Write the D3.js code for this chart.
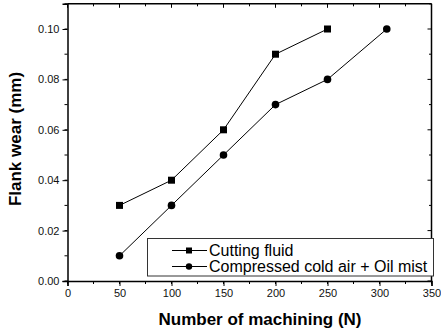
<!DOCTYPE html>
<html>
<head>
<meta charset="utf-8">
<script src="https://cdn.jsdelivr.net/npm/d3@7"></script>
<style>
  body { margin: 0; background: #fff; }
  svg { display: block; font-family: "Liberation Sans", Arial, sans-serif; }
</style>
</head>
<body>
<svg id="chart" width="441" height="330"></svg>
<script>
// series
const cuttingX = [50, 100, 150, 200, 250];
const cuttingY = [0.03, 0.04, 0.06, 0.09, 0.10];
const airX = [50, 100, 150, 200, 250, 307];
const airY = [0.01, 0.03, 0.05, 0.07, 0.08, 0.10];
const seriesNames = ["Cutting fluid", "Compressed cold air + Oil mist"];
const xTicks = [0, 50, 100, 150, 200, 250, 300, 350];
const yTicks = [0, 0.02, 0.04, 0.06, 0.08, 0.10];

const svg = d3.select("#chart");
const plotLeft = 67.5, plotRight = 431.5, plotTop = 3.8, plotBottom = 281;

const x = d3.scaleLinear().domain([0, 350]).range([plotLeft, plotRight]);
const y = d3.scaleLinear().domain([0, 0.11]).range([plotBottom, plotTop]);

// minor ticks on all sides
const xMinor = d3.range(0, 351, 25);
const yMinor = d3.range(0, 0.1101, 0.01);

// bottom axis
const xAxis = svg.append("g")
  .attr("transform", `translate(0,${plotBottom})`)
  .call(d3.axisBottom(x).tickValues(xTicks).tickSize(5).tickPadding(3).tickFormat(d3.format("d")));
xAxis.select(".domain").attr("stroke-width", 1.5);
xAxis.selectAll("text").attr("font-size", 11).attr("fill", "#111");

svg.append("g").selectAll("line")
  .data(xMinor)
  .join("line")
  .attr("x1", d => x(d)).attr("x2", d => x(d))
  .attr("y1", plotBottom).attr("y2", plotBottom + 3)
  .attr("stroke", "#000");

// left axis
const yAxis = svg.append("g")
  .attr("transform", `translate(${plotLeft},0)`)
  .call(d3.axisLeft(y).tickValues(yTicks).tickSize(5).tickPadding(3).tickFormat(d3.format(".2f")));
yAxis.select(".domain").attr("stroke-width", 1.5);
yAxis.selectAll("text").attr("font-size", 11).attr("fill", "#111");

svg.append("g").selectAll("line")
  .data(yMinor)
  .join("line")
  .attr("x1", plotLeft - 3).attr("x2", plotLeft)
  .attr("y1", d => y(d)).attr("y2", d => y(d))
  .attr("stroke", "#000");

// top and right frame with inward ticks
svg.append("line")
  .attr("x1", plotLeft).attr("x2", plotRight).attr("y1", plotTop).attr("y2", plotTop)
  .attr("stroke", "#000").attr("stroke-width", 1.5);
svg.append("line")
  .attr("x1", plotRight).attr("x2", plotRight).attr("y1", plotTop).attr("y2", plotBottom)
  .attr("stroke", "#000").attr("stroke-width", 1.5);

svg.append("g").selectAll("line")
  .data(xMinor)
  .join("line")
  .attr("x1", d => x(d)).attr("x2", d => x(d))
  .attr("y1", plotTop).attr("y2", d => plotTop + (d % 50 === 0 ? 4 : 2.5))
  .attr("stroke", "#000");

svg.append("g").selectAll("line")
  .data(yMinor)
  .join("line")
  .attr("x1", plotRight).attr("x2", (d, i) => plotRight - (i % 2 === 0 ? 4 : 2.5))
  .attr("y1", d => y(d)).attr("y2", d => y(d))
  .attr("stroke", "#000");

// axis titles
svg.append("text")
  .attr("x", 260).attr("y", 325)
  .attr("text-anchor", "middle")
  .attr("font-size", 17).attr("font-weight", "bold")
  .text("Number of machining (N)");

svg.append("text")
  .attr("transform", "translate(21,139) rotate(-90)")
  .attr("text-anchor", "middle")
  .attr("font-size", 17).attr("font-weight", "bold")
  .text("Flank wear (mm)");

// lines and markers
const line = d3.line().x(d => x(d[0])).y(d => y(d[1]));
const cutting = cuttingX.map((v, i) => [v, cuttingY[i]]);
const air = airX.map((v, i) => [v, airY[i]]);

svg.append("path").datum(cutting)
  .attr("d", line).attr("fill", "none").attr("stroke", "#000").attr("stroke-width", 1);
svg.append("path").datum(air)
  .attr("d", line).attr("fill", "none").attr("stroke", "#000").attr("stroke-width", 1);

svg.selectAll(".sq")
  .data(cutting)
  .join("rect")
  .attr("class", "sq")
  .attr("x", d => x(d[0]) - 3.5).attr("y", d => y(d[1]) - 3.5)
  .attr("width", 7).attr("height", 7)
  .attr("fill", "#000");

svg.selectAll(".dot")
  .data(air)
  .join("circle")
  .attr("class", "dot")
  .attr("cx", d => x(d[0])).attr("cy", d => y(d[1]))
  .attr("r", 3.8)
  .attr("fill", "#000");

// legend
const legend = svg.append("g");
legend.append("rect")
  .attr("x", 147.5).attr("y", 238.5).attr("width", 286).attr("height", 37.5)
  .attr("fill", "#fff").attr("stroke", "#333").attr("stroke-width", 1);

const rows = [250.5, 266.5];
rows.forEach((ry, i) => {
  legend.append("line")
    .attr("x1", 172).attr("x2", 207).attr("y1", ry).attr("y2", ry)
    .attr("stroke", "#000");
  if (i === 0) {
    legend.append("rect").attr("x", 186).attr("y", ry - 3).attr("width", 6).attr("height", 6).attr("fill", "#000");
  } else {
    legend.append("circle").attr("cx", 189).attr("cy", ry).attr("r", 3.2).attr("fill", "#000");
  }
  legend.append("text")
    .attr("x", 209).attr("y", ry + 5.5)
    .attr("font-size", 16)
    .text(seriesNames[i]);
});
</script>
</body>
</html>
